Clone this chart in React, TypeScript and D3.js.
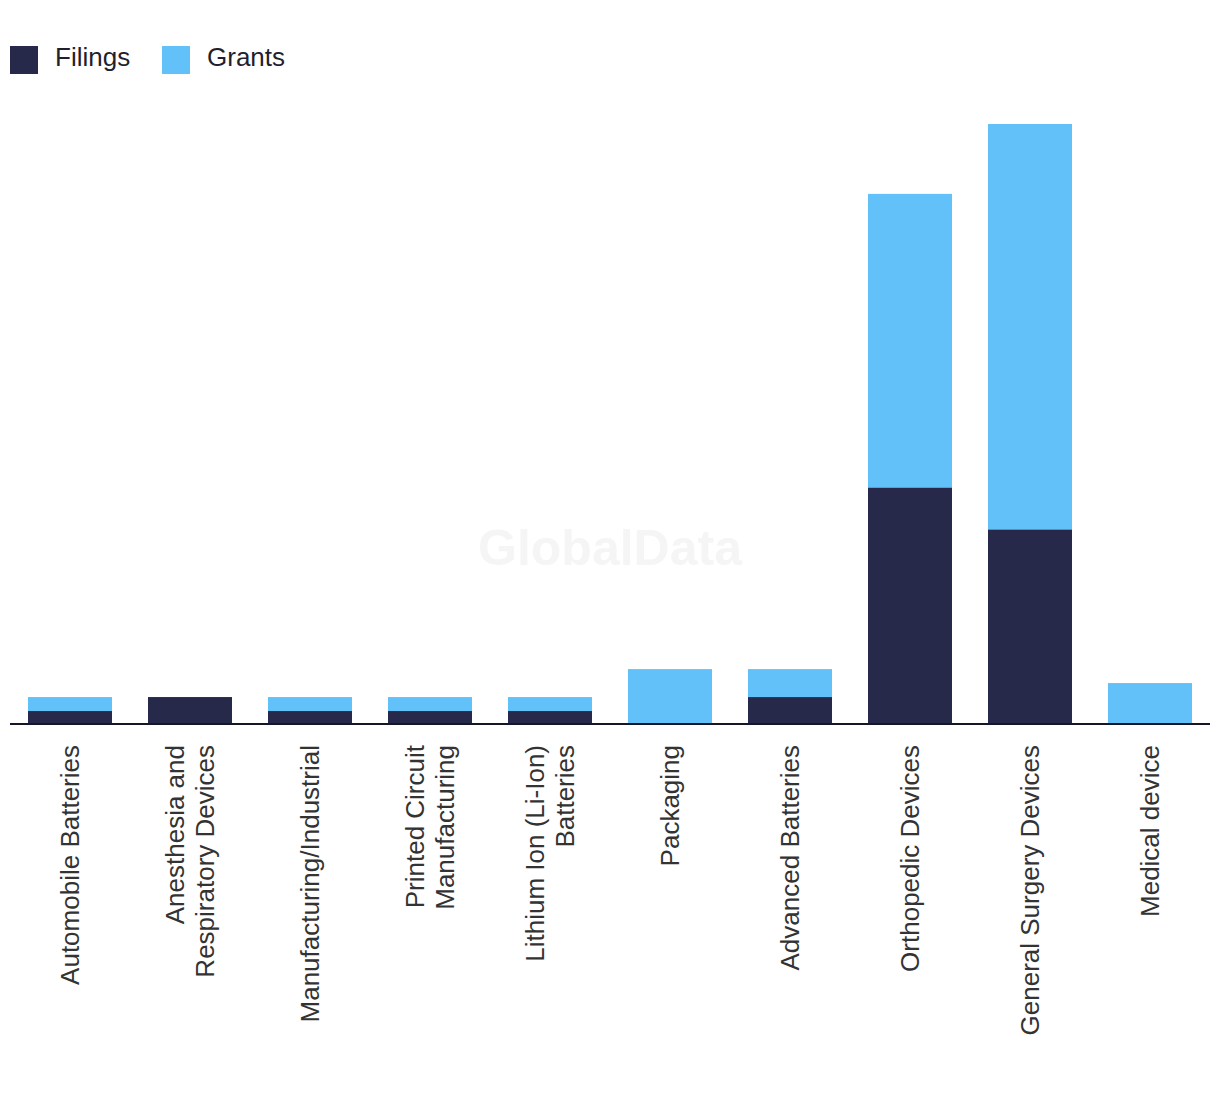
import React from "react";
import * as d3 from "d3";

const categories: string[][] = [
  ["Automobile Batteries"],
  ["Anesthesia and", "Respiratory Devices"],
  ["Manufacturing/Industrial"],
  ["Printed Circuit", "Manufacturing"],
  ["Lithium Ion (Li-Ion)", "Batteries"],
  ["Packaging"],
  ["Advanced Batteries"],
  ["Orthopedic Devices"],
  ["General Surgery Devices"],
  ["Medical device"],
];
const filings: number[] = [1, 2, 1, 1, 1, 0, 2, 17, 14, 0];
const grants: number[] = [1, 0, 1, 1, 1, 4, 2, 21, 29, 3];
const seriesNames: string[] = ["Filings", "Grants"];
const seriesColors: string[] = ["#27294B", "#62C1F9"];

const W = 1220;
const H = 1094;
const FONT = "'Liberation Sans', Arial, sans-serif";

export default function App() {
  const keys = categories.map((c) => c.join(" "));
  const rows = keys.map((k, i) => ({ key: k, Filings: filings[i], Grants: grants[i] }));
  const stack = d3.stack<any>().keys(seriesNames)(rows);
  const maxTotal = d3.max(rows, (r) => r.Filings + r.Grants) as number;

  const x = d3.scaleBand<string>().domain(keys).range([10, 1210]).paddingInner(0.3).paddingOuter(0.15);
  const y = d3.scaleLinear().domain([0, maxTotal]).range([725, 124]);

  return (
    <div>
      <style>{`body{margin:0}`}</style>
      <svg width={W} height={H} style={{ display: "block", background: "#fff" }}>
        <text x={610} y={565} textAnchor="middle" fontFamily={FONT} fontWeight="bold" fontSize={50} fill="#f5f5f5">
          GlobalData
        </text>
        {/* legend */}
        {seriesNames.map((s, i) => {
          const lx = i === 0 ? 10 : 162;
          return (
            <g key={s}>
              <rect x={lx} y={46} width={28} height={28} fill={seriesColors[i]} />
              <text x={lx + 45} y={66} fontFamily={FONT} fontSize={26} fill="#1f1f2e">
                {s}
              </text>
            </g>
          );
        })}
        {/* bars */}
        {stack.map((layer, si) => (
          <g key={layer.key} fill={seriesColors[si]}>
            {layer.map((d, i) =>
              d[1] - d[0] > 0 ? (
                <rect
                  key={i}
                  x={x(keys[i])}
                  width={x.bandwidth()}
                  y={y(d[1])}
                  height={y(d[0]) - y(d[1])}
                />
              ) : null
            )}
          </g>
        ))}
        {/* axis line */}
        <line x1={10} x2={1210} y1={724} y2={724} stroke="#16162a" strokeWidth={2} />
        {/* labels */}
        {categories.map((lines, i) => {
          const cx = (x(keys[i]) as number) + x.bandwidth() / 2;
          return (
            <text
              key={i}
              transform={`translate(${cx},745) rotate(-90)`}
              textAnchor="end"
              fontFamily={FONT}
              fontSize={26}
              fill="#333"
            >
              {lines.map((l, j) => (
                <tspan key={j} x={0} y={(j - (lines.length - 1) / 2) * 30 + 9}>
                  {l}
                </tspan>
              ))}
            </text>
          );
        })}
      </svg>
    </div>
  );
}
